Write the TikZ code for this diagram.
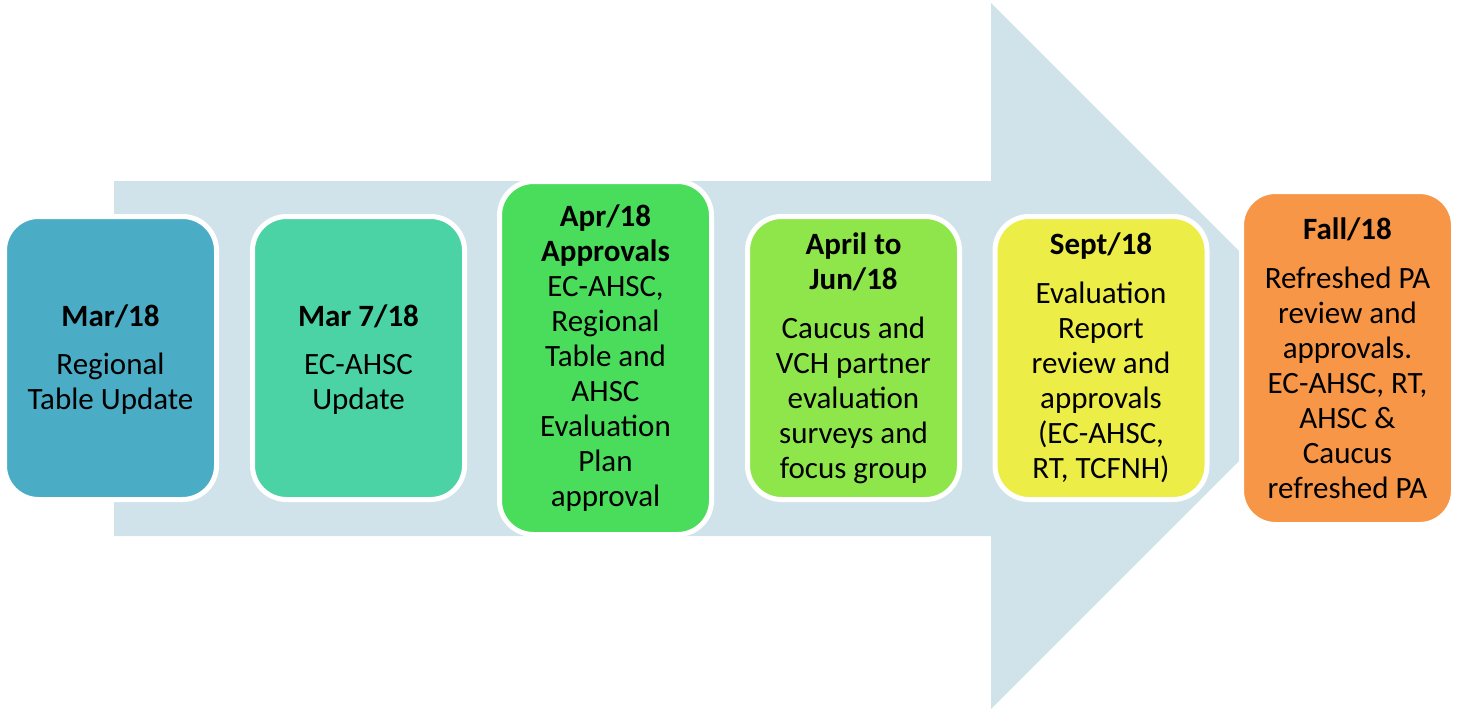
\documentclass[tikz,border=0pt]{standalone}
\usepackage{fontspec}
\setmainfont{Carlito}
\definecolor{arrowc}{HTML}{D1E3EA}
\definecolor{cA}{HTML}{4BACC6}
\definecolor{cB}{HTML}{4BD2A5}
\definecolor{cC}{HTML}{4ADC5B}
\definecolor{cD}{HTML}{8EE64B}
\definecolor{cE}{HTML}{EDED47}
\definecolor{cF}{HTML}{F79646}
\tikzset{
  stagebox/.style={draw=white, line width=5pt, rounded corners=34pt,
    minimum width=212pt, align=center, inner sep=0pt,
    font=\fontsize{31}{35}\selectfont, text=black},
  shortbox/.style={stagebox, minimum height=283pt},
}
\begin{document}
\begin{tikzpicture}[x=1pt,y=-1pt]
\useasboundingbox (0,0) rectangle (1460,713);
\fill[arrowc] (114,181) -- (991,181) -- (991,3) -- (1344,356) -- (991,709) -- (991,536) -- (114,536) -- cycle;
\node[shortbox, fill=cA] (b1) at (110.5,358) {\rule{0pt}{0pt}\\[-11pt]\textbf{Mar/18}\\[13pt]Regional\\Table Update};
\node[shortbox, fill=cB] (b2) at (358.5,358) {\rule{0pt}{0pt}\\[-11pt]\textbf{Mar 7/18}\\[13pt]EC-AHSC\\Update};
\node[stagebox, fill=cC, minimum height=353pt] (b3) at (605.5,358) {\textbf{Apr/18}\\\textbf{Approvals}\\EC-AHSC,\\Regional\\Table and\\AHSC\\Evaluation\\Plan\\approval};
\node[shortbox, fill=cD] (b4) at (853.5,358) {\textbf{April to}\\\textbf{Jun/18}\\[14pt]Caucus and\\VCH partner\\evaluation\\surveys and\\focus group};
\node[shortbox, fill=cE] (b5) at (1101,358) {\textbf{Sept/18}\\[14pt]Evaluation\\Report\\review and\\approvals\\(EC-AHSC,\\RT, TCFNH)};
\node[stagebox, fill=cF, minimum height=333pt] (b6) at (1347.5,358) {\textbf{Fall/18}\\[14pt]Refreshed PA\\review and\\approvals.\\EC-AHSC, RT,\\AHSC \&\\Caucus\\refreshed PA};
\end{tikzpicture}
\end{document}
